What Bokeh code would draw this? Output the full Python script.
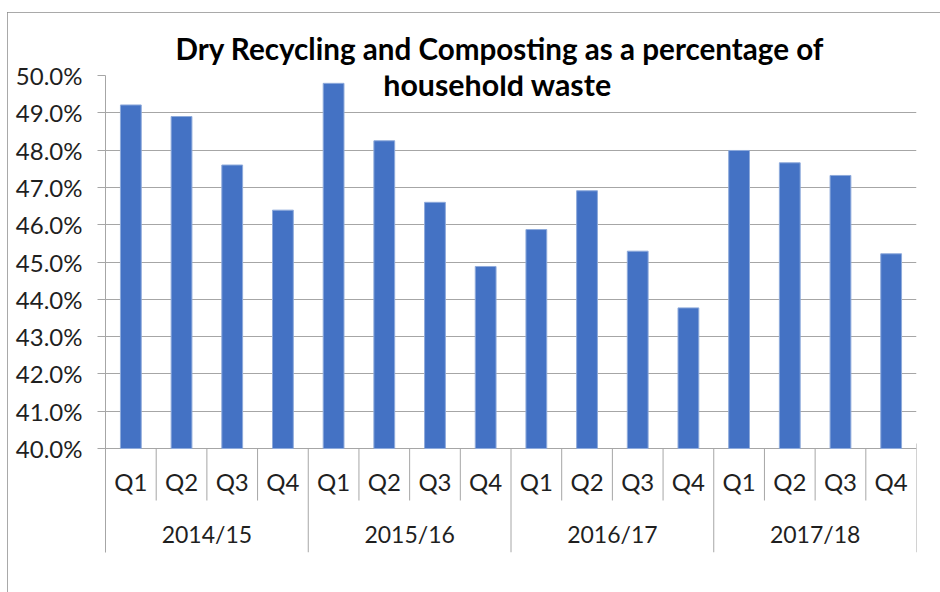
from bokeh.plotting import figure
from bokeh.models import (FactorRange, Range1d, FixedTicker, PrintfTickFormatter, Label)
from bokeh.core.properties import value
from bokeh.embed import file_html
from bokeh.resources import INLINE

# ---------------- data ----------------
years = ["2014/15", "2015/16", "2016/17", "2017/18"]
quarters = ["Q1", "Q2", "Q3", "Q4"]
values_2014_15 = [49.21, 48.90, 47.60, 46.39]
values_2015_16 = [49.79, 48.25, 46.60, 44.88]
values_2016_17 = [45.87, 46.91, 45.29, 43.77]
values_2017_18 = [47.99, 47.66, 47.32, 45.22]
y_ticks = [40, 41, 42, 43, 44, 45, 46, 47, 48, 49, 50]
title_lines = ["Dry Recycling and Composting as a percentage of", "household waste"]

series = [values_2014_15, values_2015_16, values_2016_17, values_2017_18]
factors = [(yr, q) for yr in years for q in quarters]
tops = [v for s in series for v in s]
q_text = [q for yr in years for q in quarters]

# ---------------- layout (window pixels) ----------------
WIN_W, WIN_H = 940, 592
OX, OY = 7, 12                      # outer chart border (top-left corner)
W, H = WIN_W - OX, WIN_H - OY       # canvas size
FRAME_LEFT, FRAME_RIGHT = 105, 916
FRAME_TOP, AXIS_Y, FRAME_BOTTOM = 75, 448, 552
Y_MIN, Y_MAX = y_ticks[0], y_ticks[-1]
PX = (AXIS_Y - FRAME_TOP) / (Y_MAX - Y_MIN)
N = len(factors)
PX_X = (FRAME_RIGHT - FRAME_LEFT) / N


def y_at(pixel):
    return Y_MIN - (pixel - AXIS_Y) / PX


def x_at(pixel):
    return (pixel - FRAME_LEFT) / PX_X


FONT = "Lato"
GRID = "#a6a6a6"
TXT = "#1f1f1f"

x_range = FactorRange(*factors, range_padding=0, group_padding=0, factor_padding=0)
y_range = Range1d(y_at(FRAME_BOTTOM), Y_MAX)

p = figure(width=W, height=H, x_range=x_range, y_range=y_range,
           output_backend="svg", toolbar_location=None, x_axis_location=None,
           min_border_left=FRAME_LEFT - OX, min_border_right=WIN_W - FRAME_RIGHT,
           min_border_top=FRAME_TOP - OY, min_border_bottom=WIN_H - FRAME_BOTTOM)
p.margin = (OY, 0, 0, OX)
p.styles = {"outline": "1px solid #8c8c8c", "outline-offset": "-1px"}
p.outline_line_color = None
p.background_fill_color = "white"
p.border_fill_color = "white"

# bars
p.vbar(x=factors, top=tops, bottom=Y_MIN, width=0.41,
       fill_color="#4472C4", line_color="#8eaadb", line_width=1)

# category separators (Excel multi-level axis)
xs, y0s, y1s = [], [], []
for i in range(1, N + 1):
    xs.append(i)
    if i % len(quarters) == 0:
        y0s.append(y_at(AXIS_Y - 5) if i == N else Y_MIN)
        y1s.append(y_at(FRAME_BOTTOM))
    else:
        y0s.append(Y_MIN)
        y1s.append(y_at(500))
p.segment(x0=xs, y0=y0s, x1=xs, y1=y1s, line_color=GRID, line_width=1)

# quarter labels
p.text(x=factors, y=[y_at(481)] * N, text=q_text, text_align="center",
       text_baseline="middle", text_font=value(FONT), text_font_size="24px",
       text_color=TXT)
# year labels
p.text(x=years, y=[y_at(533)] * len(years), text=years, text_align="center",
       text_baseline="middle", text_font=value(FONT), text_font_size="23px",
       text_color=TXT)

# y axis
ax = p.yaxis[0]
ax.ticker = FixedTicker(ticks=y_ticks)
ax.formatter = PrintfTickFormatter(format="%.1f%%")
ax.major_label_text_font = FONT
ax.major_label_text_font_size = "24px"
ax.major_label_text_color = TXT
ax.axis_line_color = GRID
ax.major_tick_line_color = GRID
ax.major_tick_out = 8
ax.major_tick_in = 0
ax.minor_tick_out = 0
ax.minor_tick_in = 0
ax.major_label_standoff = 15

p.xgrid.visible = False
p.ygrid.ticker = FixedTicker(ticks=y_ticks)
p.ygrid.grid_line_color = GRID

# title: first line above the plot area, second overlapping it (as in the original)
p.title.text = title_lines[0]
p.title.align = "left"
p.title.offset = 175 - FRAME_LEFT
p.title.text_font = FONT
p.title.text_font_size = "29.6px"
p.title.text_font_style = "bold"
p.title.text_color = "black"
p.title.standoff = 20

p.add_layout(Label(x=x_at(497), y=y_at(83),
                   text=title_lines[1], text_align="center", text_baseline="middle",
                   text_font=FONT, text_font_size="30.4px",
                   text_font_style="bold", text_color="black"))

open("out.html", "w").write(file_html(p, INLINE))
